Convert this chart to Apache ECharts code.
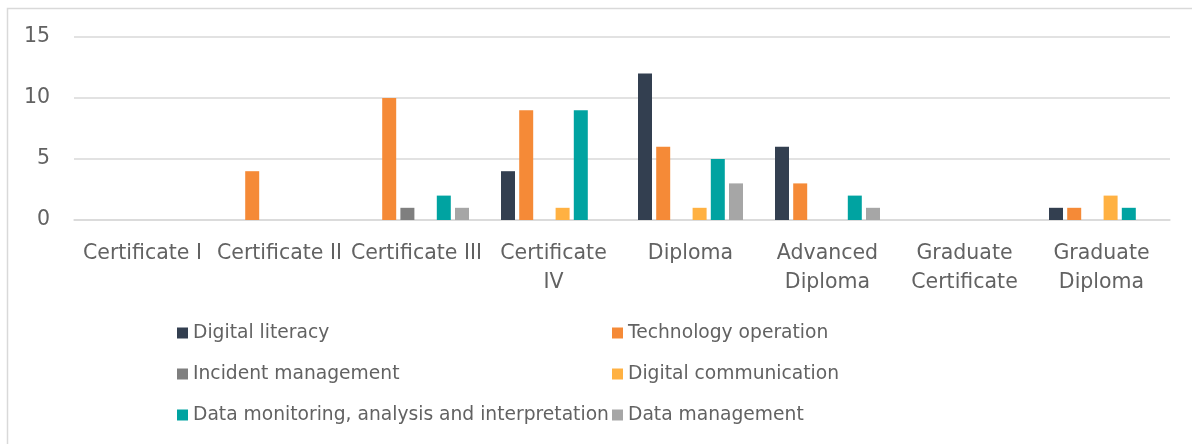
<!DOCTYPE html>
<html>
<head>
<meta charset="utf-8">
<script src="https://cdn.jsdelivr.net/npm/echarts@6/dist/echarts.min.js"></script>
<style>html,body{margin:0;padding:0;background:#fff;}#c{width:1192px;height:444px;}</style>
</head>
<body>
<div id="c"></div>
<script>
const categories = ['Certificate I','Certificate II','Certificate III','Certificate IV','Diploma','Advanced Diploma','Graduate Certificate','Graduate Diploma'];
const tickLabels = ['Certificate I','Certificate II','Certificate III','Certificate\nIV','Diploma','Advanced\nDiploma','Graduate\nCertificate','Graduate\nDiploma'];
const seriesNames = ['Digital literacy','Technology operation','Incident management','Digital communication','Data monitoring, analysis and interpretation','Data management'];
const digitalLiteracy      = [0,0,0,4,12,6,0,1];
const technologyOperation  = [0,4,10,9,6,3,0,1];
const incidentManagement   = [0,0,1,0,0,0,0,0];
const digitalCommunication = [0,0,0,1,1,0,0,2];
const dataMonitoring       = [0,0,2,9,5,2,0,1];
const dataManagement       = [0,0,1,0,3,1,0,0];
const yTicks = [0,5,10,15];

const colors = ['#333F50','#F58A37','#7F7F7F','#FFB142','#00A3A1','#A6A6A6'];
const values = [digitalLiteracy, technologyOperation, incidentManagement, digitalCommunication, dataMonitoring, dataManagement];
const font = 'DejaVu Sans';
const txt = '#626262';

const chart = echarts.init(document.getElementById('c'));
const legendBase = {
  orient: 'vertical', itemWidth: 11, itemHeight: 11, itemGap: 21, icon: 'rect',
  textStyle: {fontFamily: font, fontSize: 18.7, color: txt, lineHeight: 20},
  selectedMode: false, padding: 0
};
chart.setOption({
  animation: false,
  graphic: [{type:'rect', shape:{x:7.5,y:8.5,width:1300,height:600}, style:{fill:'none', stroke:'#D9D9D9', lineWidth:1.5}, silent:true}],
  grid: {left: 74, right: 22, top: 37, bottom: 224, containLabel: false},
  legend: [
    Object.assign({}, legendBase, {left: 177, top: 323, data: [seriesNames[0], seriesNames[2], seriesNames[4]]}),
    Object.assign({}, legendBase, {left: 612, top: 323, data: [seriesNames[1], seriesNames[3], seriesNames[5]]})
  ],
  xAxis: {
    type: 'category', data: categories,
    axisLine: {show: true, lineStyle: {color: '#D9D9D9', width: 1.5}},
    axisTick: {show: false},
    axisLabel: {interval: 0, margin: 19, fontFamily: font, fontSize: 20.5, color: txt, lineHeight: 29,
      formatter: (v, i) => tickLabels[i]}
  },
  yAxis: {
    type: 'value', min: 0, max: 15, interval: 5,
    axisLine: {show: false}, axisTick: {show: false},
    splitLine: {lineStyle: {color: '#D9D9D9', width: 1.5}},
    axisLabel: {margin: 24, fontFamily: font, fontSize: 20.5, color: txt,
      formatter: v => yTicks.includes(v) ? String(v) : ''}
  },
  series: values.map((d, i) => ({
    name: seriesNames[i], type: 'bar', data: d, barWidth: 14, barGap: '30%',
    itemStyle: {color: colors[i]}
  }))
});
</script>
</body>
</html>
